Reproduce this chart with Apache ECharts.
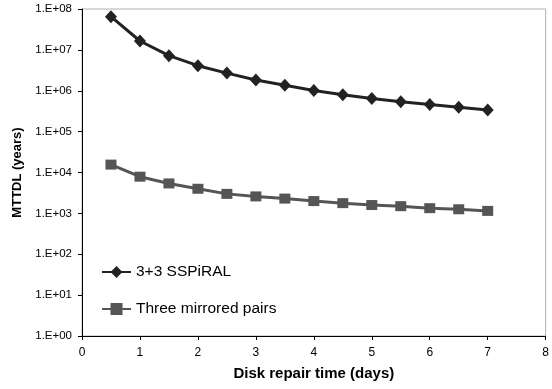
<!DOCTYPE html>
<html>
<head>
<meta charset="utf-8">
<script src="https://cdn.jsdelivr.net/npm/echarts@6/dist/echarts.min.js"></script>
<style>html,body{margin:0;padding:0;background:#fff;}#c{width:552px;height:389px;}</style>
</head>
<body>
<div id="c"></div>
<script>
const repairDays = [0.5, 1, 1.5, 2, 2.5, 3, 3.5, 4, 4.5, 5, 5.5, 6, 6.5, 7];
const sspiral = [6.5e7, 1.65e7, 7.2e6, 4.1e6, 2.7e6, 1.84e6, 1.36e6, 1.02e6, 8.0e5, 6.5e5, 5.4e5, 4.6e5, 3.95e5, 3.4e5];
const mirrored = [1.56e4, 7.9e3, 5.4e3, 4.0e3, 3.0e3, 2.6e3, 2.3e3, 2.0e3, 1.78e3, 1.6e3, 1.5e3, 1.34e3, 1.26e3, 1.15e3];
const seriesNames = ['3+3 SSPiRAL', 'Three mirrored pairs'];
const yTickLabels = ['1.E+00','1.E+01','1.E+02','1.E+03','1.E+04','1.E+05','1.E+06','1.E+07','1.E+08'];

const font = 'Liberation Sans, Arial, sans-serif';
const chart = echarts.init(document.getElementById('c'), null, {renderer: 'canvas'});
chart.setOption({
  animation: false,
  backgroundColor: '#fff',
  grid: {left: 82, right: 3, top: 9, bottom: 53, show: true, borderColor: '#b0b0b0', borderWidth: 1},
  legend: {
    orient: 'vertical', left: 96, top: 259, itemGap: 21, itemWidth: 29, itemHeight: 15,
    textStyle: {fontFamily: font, fontSize: 15.5, color: '#000'},
    data: seriesNames
  },
  xAxis: {
    type: 'value', min: 0, max: 8, interval: 1,
    name: 'Disk repair time (days)', nameLocation: 'middle', nameGap: 30,
    nameTextStyle: {fontFamily: font, fontSize: 15, fontWeight: 'bold', color: '#000'},
    axisLine: {lineStyle: {color: '#000', width: 1}},
    axisTick: {show: true, inside: false, length: 4, lineStyle: {color: '#000'}},
    axisLabel: {fontFamily: font, fontSize: 12, color: '#000', margin: 11},
    splitLine: {show: false}
  },
  yAxis: {
    type: 'log', logBase: 10, min: 1, max: 1e8,
    name: 'MTTDL (years)', nameLocation: 'middle', nameGap: 54, nameRotate: 90,
    nameTextStyle: {fontFamily: font, fontSize: 13, fontWeight: 'bold', color: '#000'},
    axisLine: {show: true, lineStyle: {color: '#000', width: 1}},
    axisTick: {show: true, inside: false, length: 4, lineStyle: {color: '#000'}},
    axisLabel: {fontFamily: font, fontSize: 11.5, color: '#000', margin: 10,
      formatter: v => yTickLabels[Math.round(Math.log10(v))]},
    splitLine: {show: false},
    minorTick: {show: false}
  },
  series: [
    {
      name: seriesNames[0], type: 'line',
      data: repairDays.map((d, i) => [d, sspiral[i]]),
      symbol: 'diamond', symbolSize: [12, 13],
      itemStyle: {color: '#222'}, lineStyle: {color: '#222', width: 3}
    },
    {
      name: seriesNames[1], type: 'line',
      data: repairDays.map((d, i) => [d, mirrored[i]]),
      symbol: 'rect', symbolSize: [11, 10],
      itemStyle: {color: '#555'}, lineStyle: {color: '#555', width: 3}
    }
  ]
});
</script>
</body>
</html>
